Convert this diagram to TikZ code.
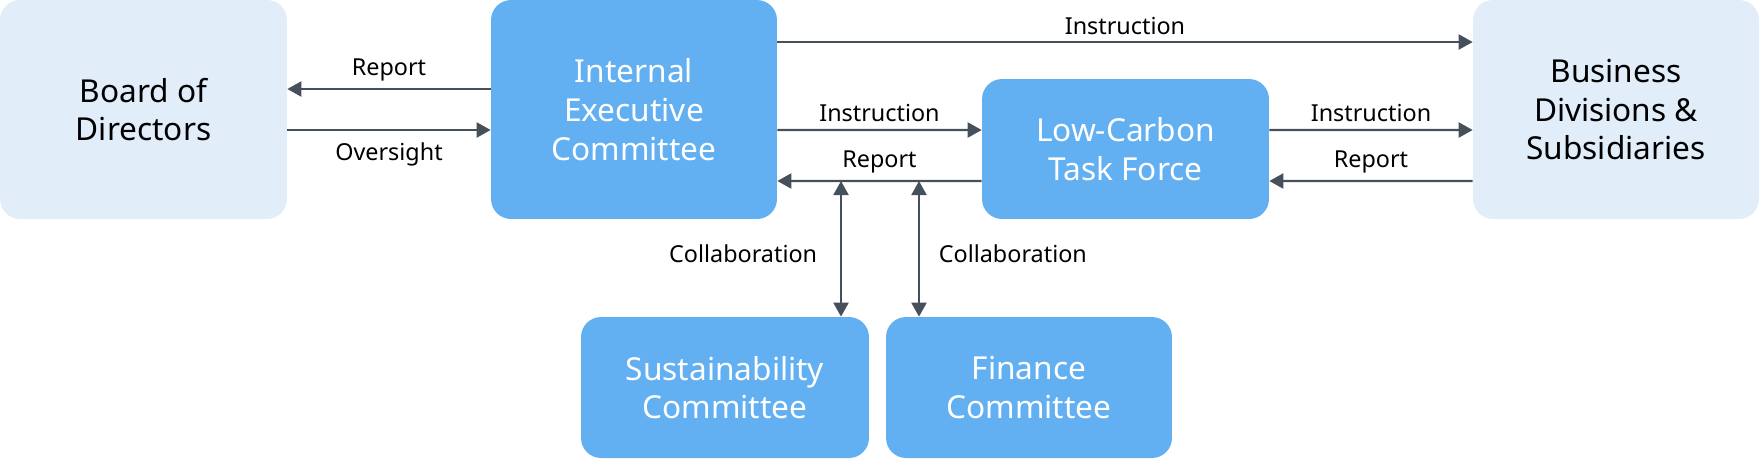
\documentclass[tikz,border=0pt]{standalone}
\usepackage{fontspec}
\setmainfont{Noto Sans}
\usetikzlibrary{arrows.meta,positioning}

\definecolor{boxblue}{HTML}{62B0F2}
\definecolor{boxpale}{HTML}{E2EDFA}
\definecolor{linkgray}{HTML}{46505B}

\tikzset{
  unit/.style={rounded corners=0.4cm, align=center, inner sep=0pt,
    font=\fontsize{18}{22}\selectfont},
  darkunit/.style={unit, fill=boxblue, text=white},
  paleunit/.style={unit, fill=boxpale, text=black},
  link/.style={draw=linkgray, line width=1.2pt, -{Triangle[length=2.8mm,width=3mm]}},
  linkboth/.style={link, {Triangle[length=2.8mm,width=3mm]}-{Triangle[length=2.8mm,width=3mm]}},
  linklabel/.style={font=\fontsize{13.3}{16}\selectfont, text=black}
}

\begin{document}
\begin{tikzpicture}[x=0.02cm,y=-0.02cm]
\useasboundingbox (0,0) rectangle (1760,458);

\node[paleunit, minimum width=5.74cm, minimum height=4.38cm] (board) at (143.5,109.5) {Board of\\Directors};
\node[darkunit, minimum width=5.72cm, minimum height=4.38cm] (iec) at (634,109.5) {Internal\\Executive\\Committee};
\node[darkunit, minimum width=5.74cm, minimum height=2.8cm] (lctf) at (1125.5,149) {Low-Carbon\\Task Force};
\node[paleunit, minimum width=5.72cm, minimum height=4.38cm] (bds) at (1616,109.5) {Business\\Divisions \&\\Subsidiaries};
\node[darkunit, minimum width=5.76cm, minimum height=2.82cm] (sust) at (725,387.5) {Sustainability\\Committee};
\node[darkunit, minimum width=5.72cm, minimum height=2.82cm] (fin) at (1029,387.5) {Finance\\Committee};

% board <-> executive committee
\draw[link] ([yshift=0.41cm]iec.west) -- node[linklabel, above=0.5pt] {Report} ([yshift=0.41cm]board.east);
\draw[link] ([yshift=-0.41cm]board.east) -- node[linklabel, below=3.5pt] {Oversight} ([yshift=-0.41cm]iec.west);

% instruction lines
\draw[link] ([yshift=1.35cm]iec.east) -- node[linklabel, above=0.5pt] {Instruction} ([yshift=1.35cm]bds.west);
\draw[link] ([yshift=-0.41cm]iec.east) -- node[linklabel, above=0.5pt] {Instruction} ([yshift=0.38cm]lctf.west);
\draw[link] ([yshift=0.38cm]lctf.east) -- node[linklabel, above=0.5pt] {Instruction} ([yshift=-0.41cm]bds.west);

% report lines
\draw[link] ([yshift=-0.64cm]lctf.west) -- node[linklabel, above=0.5pt] {Report} ([yshift=-1.43cm]iec.east);
\draw[link] ([yshift=-1.43cm]bds.west) -- node[linklabel, above=0.5pt] {Report} ([yshift=-0.64cm]lctf.east);

% collaboration
\coordinate (sustjoin) at (841,181);
\coordinate (finjoin) at (919,181);
\draw[linkboth] (sustjoin) -- node[linklabel, left=0.34cm, yshift=-0.1cm] {Collaboration} (sustjoin |- sust.north);
\draw[linkboth] (finjoin) -- node[linklabel, right=0.26cm, yshift=-0.1cm] {Collaboration} (finjoin |- fin.north);
\end{tikzpicture}
\end{document}
